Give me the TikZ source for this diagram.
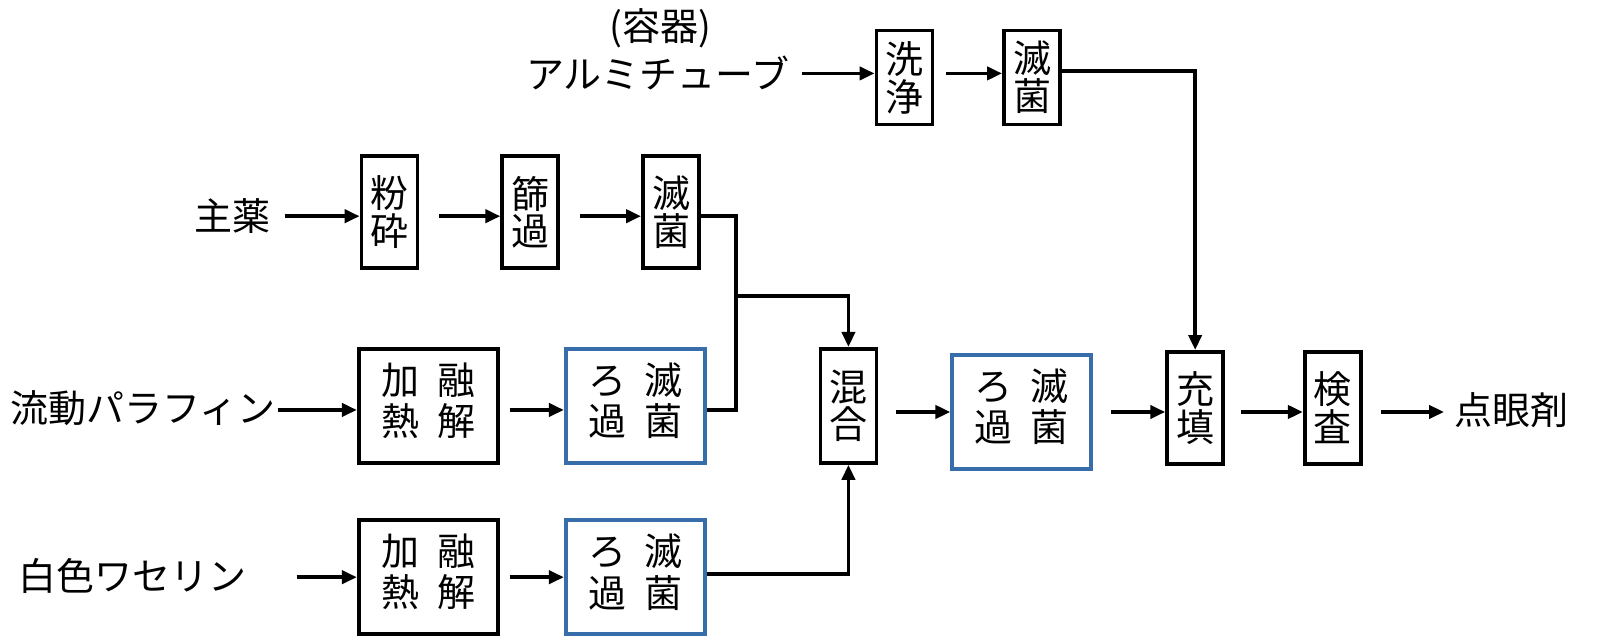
\documentclass[tikz,border=0pt]{standalone}
\usepackage{fontspec}
\setmainfont{Noto Sans CJK JP}
\usetikzlibrary{arrows.meta}
\definecolor{bl}{RGB}{55,110,170}
\newcommand{\qb}[8]{\node[bx,#8,minimum width=139pt,minimum height=114pt] (#1) at (#2,#3) {\begin{tabular}{@{}c@{\hspace{18pt}}c@{}}#4&#5\\[-4pt]#6&#7\end{tabular}};}
\newcommand{\vb}[6]{\node[bx,minimum width=56pt,minimum height=#6pt] (#1) at (#2,#3) {\shortstack{#4\\#5}};}
\begin{document}
\begin{tikzpicture}[x=1.02pt,y=-1.02pt,
 bx/.style={draw,line width=3.8pt,inner sep=0pt,font=\fontsize{38}{44}\selectfont},
 tx/.style={font=\fontsize{38}{44}\selectfont,inner sep=0pt},
 ar/.style={line width=3.8pt,-{Triangle[length=15pt,width=13pt]}},
 ln/.style={line width=3.8pt}]
\useasboundingbox (0,0) rectangle (1569,623.5);
% top row
\node[tx] (yoki) at (648,28) {(容器)};
\node[tx] (alu) at (645,72) {アルミチューブ};
\vb{sen}{887}{76}{洗}{浄}{94}
\vb{mek0}{1012}{76}{滅}{菌}{94}
\draw[ar] ([xshift=12pt]alu.east|-0,72) -- (sen.west|-0,72);
\draw[ar] ([xshift=12pt]sen.east|-0,72) -- (mek0.west|-0,72);
% row 2
\node[tx] (shu) at (228,212) {主薬};
\vb{fun}{382}{208}{粉}{砕}{112}
\vb{shi}{520}{208}{篩}{過}{112}
\vb{mek1}{658}{208}{滅}{菌}{112}
\draw[ar] ([xshift=14pt]shu.east|-0,212) -- (fun.west|-0,212);
\draw[ar] ([xshift=20pt]fun.east|-0,212) -- (shi.west|-0,212);
\draw[ar] ([xshift=20pt]shi.east|-0,212) -- (mek1.west|-0,212);
% row 3
\node[tx] (ryu) at (140,400) {流動パラフィン};
\qb{kk1}{420}{398}{加}{融}{熱}{解}{black}
\qb{rk1}{623}{398}{ろ}{滅}{過}{菌}{draw=bl}
\vb{kon}{832}{398}{混}{合}{114}
\qb{rk2}{1002}{404}{ろ}{滅}{過}{菌}{draw=bl}
\vb{ju}{1172}{400}{充}{填}{112}
\vb{ken}{1307}{400}{検}{査}{112}
\node[tx] (ten) at (1482,402) {点眼剤};
\draw[ar] ([xshift=2pt]ryu.east|-0,402) -- (kk1.west|-0,402);
\draw[ar] ([xshift=10pt]kk1.east|-0,402) -- (rk1.west|-0,402);
\draw[ar] ([xshift=18pt]kon.east|-0,404) -- (rk2.west|-0,404);
\draw[ar] ([xshift=18pt]rk2.east|-0,404) -- (ju.west|-0,404);
\draw[ar] ([xshift=16pt]ju.east|-0,404) -- (ken.west|-0,404);
\draw[ar] ([xshift=18pt]ken.east|-0,404) -- ([xshift=-10pt]ten.west|-0,404);
% row 4
\node[tx] (hak) at (130,565) {白色ワセリン};
\qb{kk2}{420}{566}{加}{融}{熱}{解}{black}
\qb{rk3}{623}{566}{ろ}{滅}{過}{菌}{draw=bl}
\draw[ar] ([xshift=50pt]hak.east|-0,566) -- (kk2.west|-0,566);
\draw[ar] ([xshift=10pt]kk2.east|-0,566) -- (rk3.west|-0,566);
% connectors
\coordinate (j1) at (722,212);
\coordinate (j2) at (722,402);
\coordinate (j3) at (722,290);
\coordinate (j4) at (832,290);
\draw[ln] (mek1.east|-j1) -- (j1) -- (j2) -- (rk1.east|-j2);
\draw[ar] (j3) -- (j4) -- (kon.north);
\coordinate (j5) at (832,563);
\draw[ar] (rk3.east|-j5) -- (j5) -- (kon.south);
\coordinate (j6) at (1172,70);
\draw[ar] (mek0.east|-j6) -- (j6) -- (ju.north);
\end{tikzpicture}
\end{document}
